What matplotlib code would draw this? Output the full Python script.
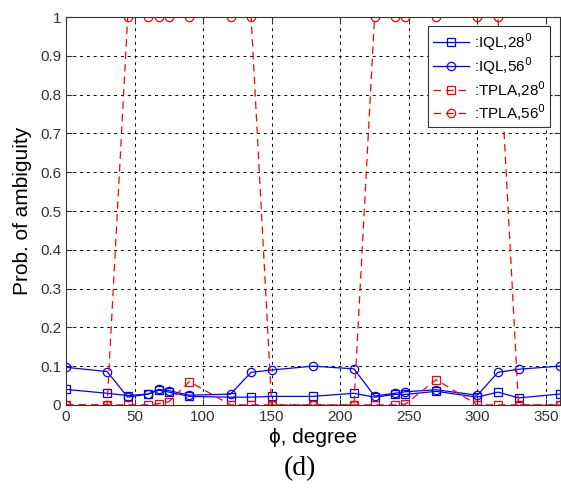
import matplotlib
matplotlib.use("Agg")
import matplotlib.pyplot as plt

plt.rcParams['font.family'] = ['Liberation Sans', 'DejaVu Sans']

# azimuth angles (degree)
phi = [0, 30, 45, 60, 67.5, 75, 90, 120, 135, 150,
       180, 210, 225, 240, 247.5, 270, 300, 315, 330, 360]

iql_28 = [0.040, 0.030, 0.024, 0.028, 0.038, 0.033, 0.022, 0.020, 0.020, 0.022,
          0.022, 0.030, 0.020, 0.027, 0.027, 0.035, 0.020, 0.033, 0.018, 0.028]
iql_56 = [0.097, 0.086, 0.020, 0.028, 0.040, 0.037, 0.025, 0.028, 0.084, 0.090,
          0.100, 0.093, 0.023, 0.030, 0.034, 0.039, 0.025, 0.084, 0.092, 0.100]
tpla_28 = [0, 0, 0, 0, 0.003, 0.008, 0.060, 0, 0, 0,
           0, 0, 0, 0, 0.002, 0.065, 0, 0, 0, 0]
tpla_56 = [0, 0, 1, 1, 1, 1, 1, 1, 1, 0,
           0, 0, 1, 1, 1, 1, 1, 1, 0, 0]

labels = [':IQL,28$^0$', ':IQL,56$^0$', ':TPLA,28$^0$', ':TPLA,56$^0$']

fig = plt.figure(figsize=(5.61, 5.03), dpi=100)
ax = fig.add_axes([0.1176, 0.195, 0.880, 0.771])

ms = 6
ax.plot(phi, iql_28, color='#0000ff', ls='-', lw=0.9, marker='s', ms=ms,
        mfc='none', mew=0.9, label=labels[0])
ax.plot(phi, iql_56, color='#0000ff', ls='-', lw=0.9, marker='o', ms=ms,
        mfc='none', mew=0.9, label=labels[1])
ax.plot(phi, tpla_28, color='#ff0000', ls=(0, (6, 4)), lw=0.9, marker='s', ms=ms,
        mfc='none', mew=0.9, label=labels[2])
ax.plot(phi, tpla_56, color='#ff0000', ls=(0, (6, 4)), lw=0.9, marker='o', ms=ms,
        mfc='none', mew=0.9, label=labels[3])

ax.set_xlim(0, 360)
ax.set_ylim(0, 1)
ax.set_xticks(range(0, 351, 50))
ax.set_yticks([i / 10 for i in range(11)])
ax.set_yticklabels(['0'] + ['%.1f' % (i / 10) for i in range(1, 10)] + ['1'])
ax.grid(True, color='black', ls=(0, (3, 4)), lw=0.7)
ax.tick_params(direction='in', labelsize=11, length=4, colors='#333333',
               labelcolor='#333333', top=True, right=True)
for s in ax.spines.values():
    s.set_color('#333333')
    s.set_linewidth(0.8)

ax.set_xlabel('ϕ, degree', fontsize=15, labelpad=3)
ax.set_ylabel('Prob. of ambiguity', fontsize=15, labelpad=6)

leg = ax.legend(loc='upper right', fontsize=11, frameon=True, fancybox=False,
                edgecolor='#333333', framealpha=1, handlelength=2.4,
                borderaxespad=0.6, labelspacing=0.15, handletextpad=0.3,
                borderpad=0.3)
leg.get_frame().set_linewidth(0.8)

fig.text(0.535, 0.055, '(d)', fontsize=20, family='Liberation Serif', ha='center')

fig.savefig('out.png', dpi=100)
